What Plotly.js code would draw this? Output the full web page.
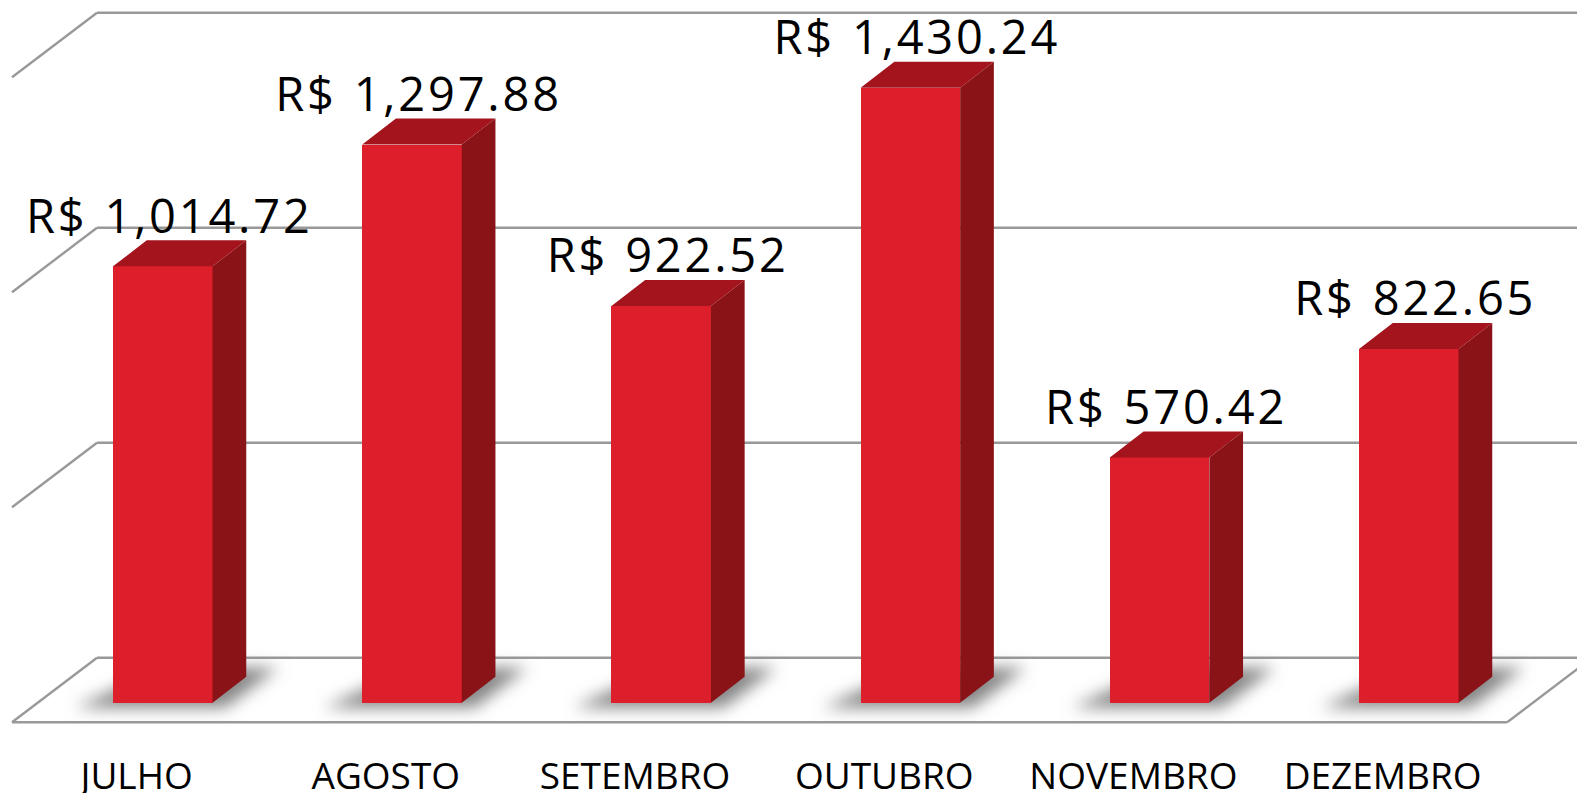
<!DOCTYPE html>
<html>
<head>
<meta charset="utf-8">
<script src="https://cdn.plot.ly/plotly-3.0.1.min.js"></script>
<style>
html,body{margin:0;padding:0;background:#fff;overflow:hidden}
#c{width:1577px;height:793px}
#c .textpoint text{letter-spacing:2.8px;word-spacing:2px}
</style>
</head>
<body>
<div id="c"></div>
<script>
var categories = ["JULHO","AGOSTO","SETEMBRO","OUTUBRO","NOVEMBRO","DEZEMBRO"];
var values = [1014.72,1297.88,922.52,1430.24,570.42,822.65];
var gridValues = [0,500,1000,1500];

var W = 1577, H = 793, plotBottom = 751;
var pxPerCat = 249.2, pxPerVal = 0.43;
var zeroPx = 702.7, firstCatPx = 136.6;
var xRange = [(0-firstCatPx)/pxPerCat, (W-firstCatPx)/pxPerCat];
var yRange = [(zeroPx-plotBottom)/pxPerVal, zeroPx/pxPerVal];
function ux(p){return p/pxPerCat;}
function uy(p){return p/pxPerVal;}

var barShift = ux(26.2), barWidth = ux(99.5);
var barDX = ux(33.7), barDY = uy(26);
var floorDX = ux(85), floorDY = uy(64.6), floorFront = uy(-19.6);
var gridColor = "#999999";

var barX = categories.map(function(_, i){return i + barShift;});

function polys(fn){
  var xs=[], ys=[];
  barX.forEach(function(x,i){
    var p = fn(x - barWidth/2, x + barWidth/2, values[i]);
    p.forEach(function(q){xs.push(q[0]);ys.push(q[1]);});
    xs.push(xs[xs.length-p.length]); ys.push(ys[ys.length-p.length]);
    xs.push(null); ys.push(null);
  });
  return {x:xs,y:ys};
}
var side = polys(function(l,r,v){return [[r,0],[r+barDX,barDY],[r+barDX,v+barDY],[r,v]];});
var top3d = polys(function(l,r,v){return [[l,v],[l+barDX,v+barDY],[r+barDX,v+barDY],[r,v]];});

var labelLift = uy(22);
var traces = [
  {type:"bar", x:barX, y:values, width:barWidth, marker:{color:"#dc1f2a",line:{width:0}}, hoverinfo:"skip", showlegend:false},
  {type:"scatter", mode:"lines", x:side.x, y:side.y, fill:"toself", fillcolor:"#8a1318", line:{width:0}, hoverinfo:"skip", showlegend:false},
  {type:"scatter", mode:"lines", x:top3d.x, y:top3d.y, fill:"toself", fillcolor:"#a3141d", line:{width:0}, hoverinfo:"skip", showlegend:false},
  {type:"scatter", mode:"text",
   x:barX.map(function(x){return x+ux(6.5);}),
   y:values.map(function(v){return v+labelLift;}),
   text:values.map(function(v){return "R$ "+v.toLocaleString("en-US",{minimumFractionDigits:2,maximumFractionDigits:2});}),
   textposition:"top center", cliponaxis:false,
   textfont:{family:"Open Sans, Noto Sans, sans-serif",size:47,color:"#000"}, hoverinfo:"skip", showlegend:false}
];

var shapes = [];
function seg(x0,y0,x1,y1){
  shapes.push({type:"line",layer:"below",xref:"x",yref:"y",x0:x0,y0:y0,x1:x1,y1:y1,line:{color:gridColor,width:2.4}});
}
var left=-0.5, right=categories.length-0.5;
gridValues.forEach(function(v){
  seg(left, v+floorFront, left+floorDX, v+floorFront+floorDY);
  seg(left+floorDX, v+floorFront+floorDY, right+floorDX, v+floorFront+floorDY);
});
seg(left, floorFront, right, floorFront);
seg(right, floorFront, right+floorDX, floorFront+floorDY);

var svgShadow = '<svg xmlns="http://www.w3.org/2000/svg" width="360" height="130" viewBox="0 0 360 130">'+
  '<defs><filter id="b" filterUnits="userSpaceOnUse" x="0" y="0" width="360" height="130"><feGaussianBlur stdDeviation="8"/></filter></defs>'+
  '<polygon points="62,90 212,90 265,50 150,50" fill="#858585" filter="url(#b)"/></svg>';
var shadowSrc = "data:image/svg+xml;base64,"+btoa(svgShadow);
var images = barX.map(function(x){
  return {source:shadowSrc,xref:"x",yref:"y",x:x-barWidth/2-ux(100),y:uy(85),sizex:ux(360),sizey:uy(130),
          sizing:"stretch",xanchor:"left",yanchor:"top",layer:"below"};
});

var layout = {
  width:W, height:H, autosize:false, showlegend:false, bargap:0,
  margin:{l:0,r:0,t:0,b:H-plotBottom,pad:0},
  paper_bgcolor:"#fff", plot_bgcolor:"#fff",
  xaxis:{range:xRange, tickmode:"array", tickvals:categories.map(function(_,i){return i;}), ticktext:categories,
         showgrid:false, zeroline:false, showline:false, ticks:"", tickangle:0, automargin:false,
         tickfont:{family:"Open Sans, Noto Sans, sans-serif",size:37,color:"#000"}},
  yaxis:{range:yRange, visible:false, showgrid:false, zeroline:false},
  shapes:shapes, images:images
};
Plotly.newPlot("c",traces,layout,{displayModeBar:false,staticPlot:true});
</script>
</body>
</html>
